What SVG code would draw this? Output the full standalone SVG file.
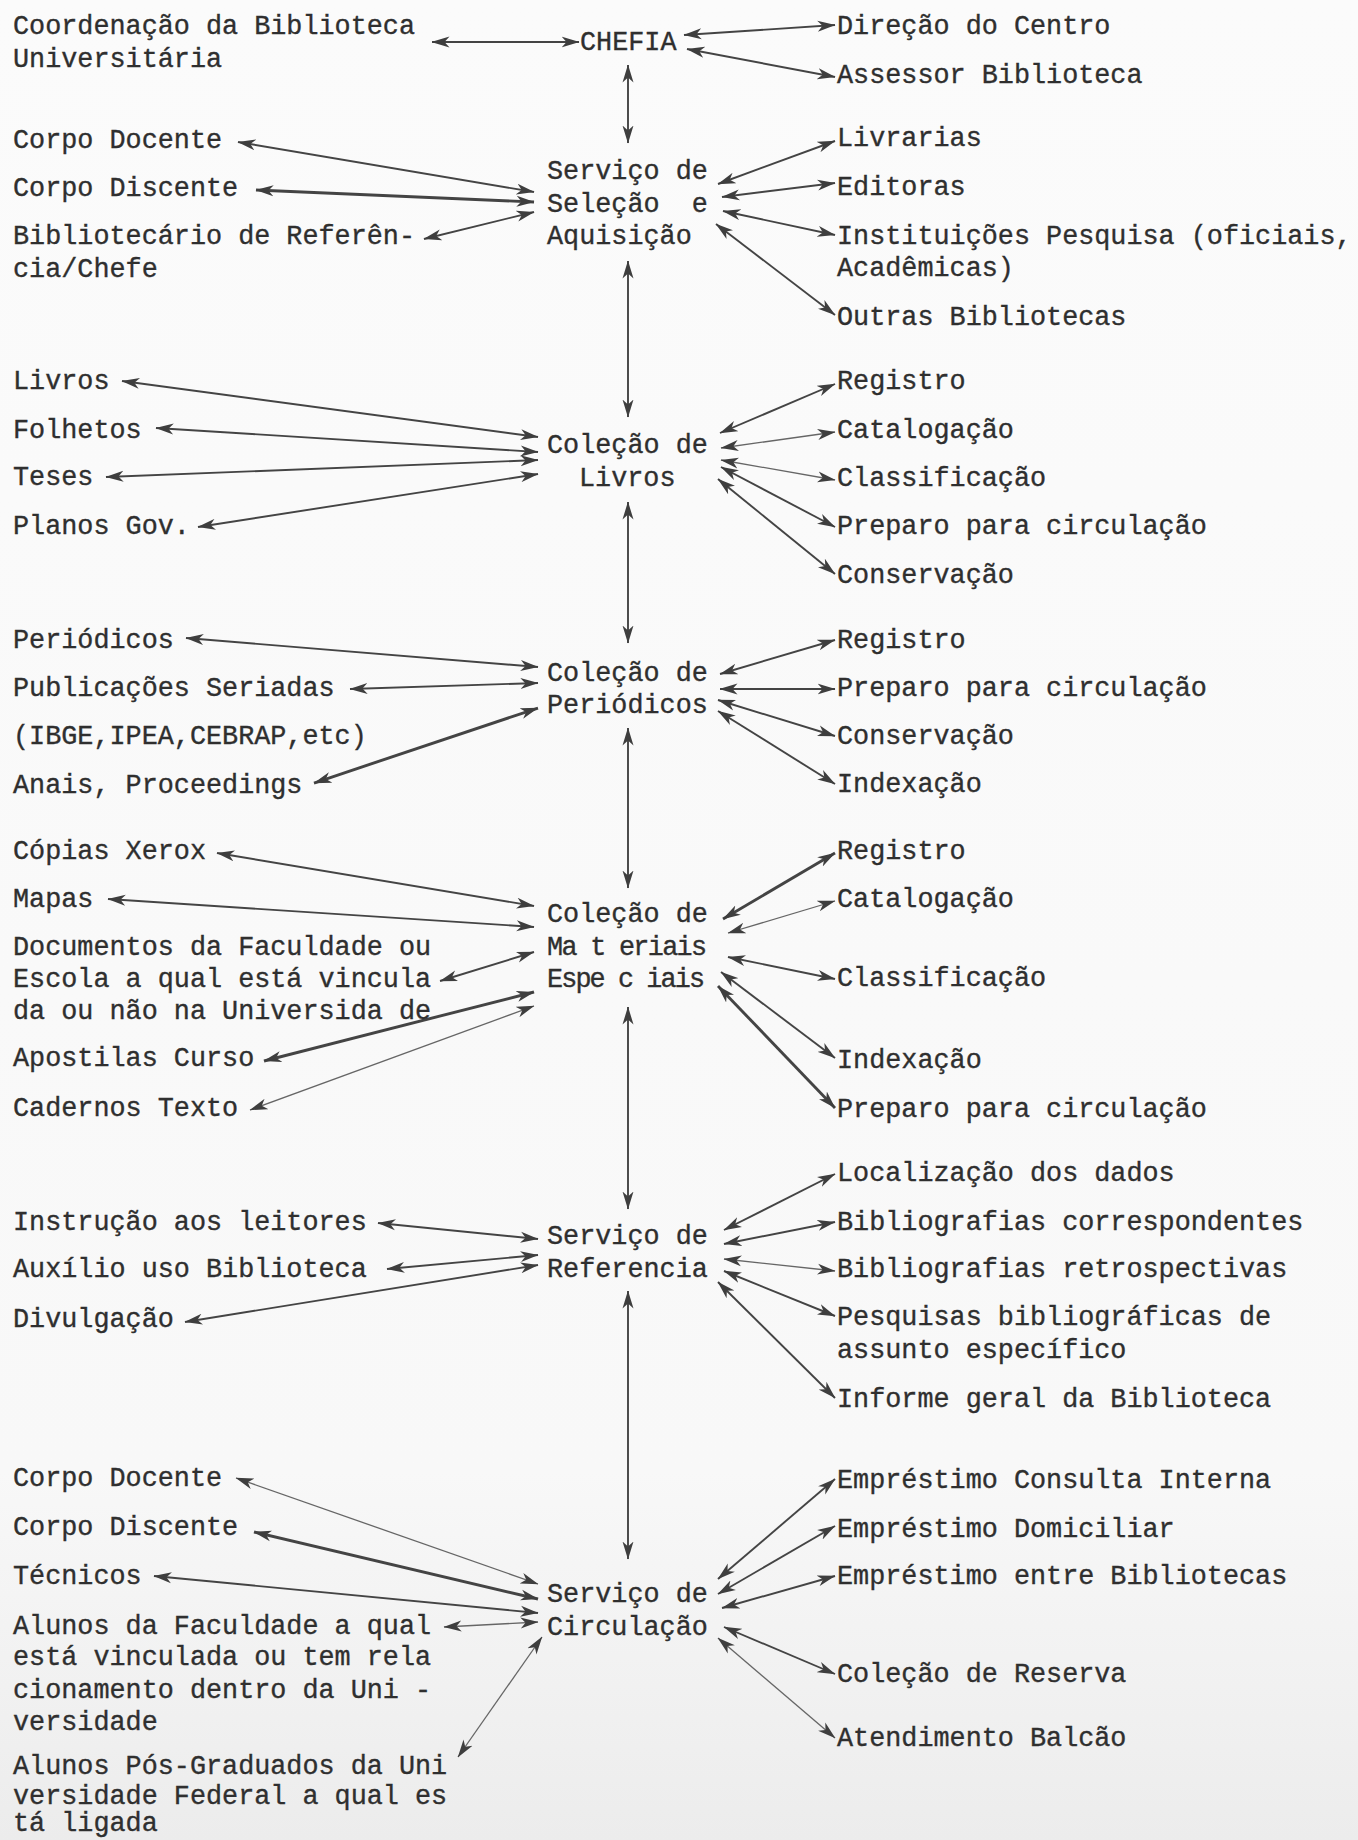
<svg xmlns="http://www.w3.org/2000/svg" width="1358" height="1840" viewBox="0 0 1358 1840">
<defs>
<marker id="ah" viewBox="0 0 18 12" refX="17.5" refY="6" markerWidth="18" markerHeight="12" markerUnits="userSpaceOnUse" orient="auto-start-reverse">
<path d="M0,0.5 L18,6 L0,11.5 L5,6 z" fill="#3e3e3e"/>
</marker>
<linearGradient id="bg" x1="0" y1="0" x2="0" y2="1">
<stop offset="0" stop-color="#fbfbfb"/>
<stop offset="0.8" stop-color="#f8f8f8"/>
<stop offset="1" stop-color="#ececec"/>
</linearGradient>
</defs>
<style>
text{font-family:"Liberation Mono","DejaVu Sans Mono",monospace;font-size:26.8px;fill:#2f2f2f;stroke:#2f2f2f;stroke-width:0.35;white-space:pre}
.c line{stroke:#444;stroke-width:1.9;fill:none;marker-start:url(#ah);marker-end:url(#ah)}
.c line.k{stroke-width:2.9}
.c line.l{stroke-width:1.3;stroke:#666}
</style>
<rect width="1358" height="1840" fill="url(#bg)"/>

<g class="c" id="connectors">
<line x1="628" y1="65" x2="628" y2="143"/>
<line x1="628" y1="261" x2="628" y2="417"/>
<line x1="628" y1="502" x2="628" y2="643"/>
<line x1="628" y1="728" x2="628" y2="888"/>
<line x1="628" y1="1007" x2="628" y2="1209"/>
<line x1="628" y1="1291" x2="628" y2="1559"/>
<line x1="432" y1="42" x2="579" y2="42"/>
<line x1="684" y1="35" x2="835" y2="25"/>
<line x1="687" y1="49" x2="835" y2="77"/>
<line x1="238" y1="142" x2="534" y2="192"/>
<line class="k" x1="256" y1="190" x2="534" y2="202"/>
<line x1="424" y1="239" x2="534" y2="212"/>
<line x1="718" y1="184" x2="835" y2="141"/>
<line x1="722" y1="197" x2="835" y2="183"/>
<line x1="723" y1="211" x2="835" y2="235"/>
<line x1="716" y1="224" x2="835" y2="315"/>
<line x1="122" y1="381" x2="538" y2="437"/>
<line x1="156" y1="428" x2="538" y2="452"/>
<line x1="106" y1="477" x2="538" y2="460"/>
<line x1="198" y1="527" x2="538" y2="474"/>
<line x1="720" y1="433" x2="835" y2="384"/>
<line class="l" x1="721" y1="448" x2="835" y2="432"/>
<line class="l" x1="721" y1="460" x2="835" y2="480"/>
<line x1="721" y1="467" x2="835" y2="527"/>
<line x1="718" y1="479" x2="835" y2="574"/>
<line x1="186" y1="638" x2="538" y2="667"/>
<line x1="350" y1="689" x2="538" y2="683"/>
<line class="k" x1="314" y1="783" x2="538" y2="708"/>
<line x1="720" y1="674" x2="835" y2="640"/>
<line x1="720" y1="689" x2="835" y2="689"/>
<line x1="718" y1="700" x2="835" y2="736"/>
<line x1="718" y1="711" x2="835" y2="784"/>
<line x1="217" y1="853" x2="534" y2="906"/>
<line x1="108" y1="899" x2="534" y2="927"/>
<line x1="440" y1="981" x2="534" y2="952"/>
<line class="k" x1="264" y1="1061" x2="534" y2="992"/>
<line class="l" x1="250" y1="1110" x2="534" y2="1006"/>
<line class="k" x1="723" y1="919" x2="835" y2="853"/>
<line class="l" x1="728" y1="933" x2="835" y2="901"/>
<line x1="728" y1="957" x2="835" y2="979"/>
<line x1="721" y1="972" x2="835" y2="1058"/>
<line class="k" x1="718" y1="986" x2="835" y2="1108"/>
<line x1="378" y1="1223" x2="538" y2="1239"/>
<line x1="387" y1="1269" x2="538" y2="1255"/>
<line x1="185" y1="1322" x2="538" y2="1265"/>
<line x1="724" y1="1230" x2="835" y2="1174"/>
<line x1="724" y1="1244" x2="835" y2="1222"/>
<line class="l" x1="724" y1="1259" x2="835" y2="1271"/>
<line x1="724" y1="1271" x2="835" y2="1316"/>
<line x1="718" y1="1282" x2="835" y2="1398"/>
<line class="l" x1="236" y1="1478" x2="538" y2="1584"/>
<line class="k" x1="254" y1="1532" x2="538" y2="1599"/>
<line x1="154" y1="1576" x2="538" y2="1613"/>
<line class="l" x1="444" y1="1627" x2="538" y2="1622"/>
<line class="l" x1="458" y1="1757" x2="542" y2="1637"/>
<line x1="718" y1="1579" x2="835" y2="1479"/>
<line x1="718" y1="1594" x2="835" y2="1526"/>
<line x1="722" y1="1608" x2="835" y2="1576"/>
<line x1="724" y1="1627" x2="835" y2="1674"/>
<line class="l" x1="718" y1="1638" x2="835" y2="1738"/>
</g>

<g id="chefia"><text x="580" y="50">CHEFIA</text></g>
<g id="selecao"><text x="547" y="179">Serviço de</text><text x="547" y="212">Seleção  e</text><text x="547" y="244">Aquisição</text></g>
<g id="col-livros"><text x="547" y="453">Coleção de</text><text x="579" y="486">Livros</text></g>
<g id="col-periodicos"><text x="547" y="681">Coleção de</text><text x="547" y="713">Periódicos</text></g>
<g id="col-materiais"><text x="547" y="922">Coleção de</text><text x="547" y="955" textLength="160" lengthAdjust="spacing">Ma t eriais</text><text x="547" y="987" textLength="158" lengthAdjust="spacing">Espe c iais</text></g>
<g id="referencia"><text x="547" y="1244">Serviço de</text><text x="547" y="1277">Referencia</text></g>
<g id="circulacao"><text x="547" y="1602">Serviço de</text><text x="547" y="1635">Circulação</text></g>

<g id="coord"><text x="13" y="34">Coordenação da Biblioteca</text><text x="13" y="67">Universitária</text></g>
<g id="docente1"><text x="13" y="148">Corpo Docente</text></g>
<g id="discente1"><text x="13" y="196">Corpo Discente</text></g>
<g id="bibref"><text x="13" y="244">Bibliotecário de Referên-</text><text x="13" y="277">cia/Chefe</text></g>
<g id="livros-item"><text x="13" y="389">Livros</text></g>
<g id="folhetos"><text x="13" y="438">Folhetos</text></g>
<g id="teses"><text x="13" y="485">Teses</text></g>
<g id="planos"><text x="13" y="534">Planos Gov.</text></g>
<g id="periodicos-item"><text x="13" y="648">Periódicos</text></g>
<g id="publicacoes"><text x="13" y="696">Publicações Seriadas</text></g>
<g id="ibge"><text x="13" y="744">(IBGE,IPEA,CEBRAP,etc)</text></g>
<g id="anais"><text x="13" y="793">Anais, Proceedings</text></g>
<g id="copias"><text x="13" y="859">Cópias Xerox</text></g>
<g id="mapas"><text x="13" y="907">Mapas</text></g>
<g id="documentos"><text x="13" y="955">Documentos da Faculdade ou</text><text x="13" y="987">Escola a qual está vincula</text><text x="13" y="1019">da ou não na Universida de</text></g>
<g id="apostilas"><text x="13" y="1066">Apostilas Curso</text></g>
<g id="cadernos"><text x="13" y="1116">Cadernos Texto</text></g>
<g id="instrucao"><text x="13" y="1230">Instrução aos leitores</text></g>
<g id="auxilio"><text x="13" y="1277">Auxílio uso Biblioteca</text></g>
<g id="divulgacao"><text x="13" y="1327">Divulgação</text></g>
<g id="docente2"><text x="13" y="1486">Corpo Docente</text></g>
<g id="discente2"><text x="13" y="1535">Corpo Discente</text></g>
<g id="tecnicos"><text x="13" y="1584">Técnicos</text></g>
<g id="alunos-fac"><text x="13" y="1634">Alunos da Faculdade a qual</text><text x="13" y="1665">está vinculada ou tem rela</text><text x="13" y="1698">cionamento dentro da Uni -</text><text x="13" y="1730">versidade</text></g>
<g id="alunos-pos"><text x="13" y="1774">Alunos Pós-Graduados da Uni</text><text x="13" y="1804">versidade Federal a qual es</text><text x="13" y="1831">tá ligada</text></g>

<g id="direcao"><text x="837" y="34">Direção do Centro</text></g>
<g id="assessor"><text x="837" y="83">Assessor Biblioteca</text></g>
<g id="livrarias"><text x="837" y="146">Livrarias</text></g>
<g id="editoras"><text x="837" y="195">Editoras</text></g>
<g id="instituicoes"><text x="837" y="244">Instituições Pesquisa (oficiais,</text><text x="837" y="276">Acadêmicas)</text></g>
<g id="outras"><text x="837" y="325">Outras Bibliotecas</text></g>
<g id="registro1"><text x="837" y="389">Registro</text></g>
<g id="catalog1"><text x="837" y="438">Catalogação</text></g>
<g id="classif1"><text x="837" y="486">Classificação</text></g>
<g id="preparo1"><text x="837" y="534">Preparo para circulação</text></g>
<g id="conserv1"><text x="837" y="583">Conservação</text></g>
<g id="registro2"><text x="837" y="648">Registro</text></g>
<g id="preparo2"><text x="837" y="696">Preparo para circulação</text></g>
<g id="conserv2"><text x="837" y="744">Conservação</text></g>
<g id="index2"><text x="837" y="792">Indexação</text></g>
<g id="registro3"><text x="837" y="859">Registro</text></g>
<g id="catalog3"><text x="837" y="907">Catalogação</text></g>
<g id="classif3"><text x="837" y="986">Classificação</text></g>
<g id="index3"><text x="837" y="1068">Indexação</text></g>
<g id="preparo3"><text x="837" y="1117">Preparo para circulação</text></g>
<g id="localizacao"><text x="837" y="1181">Localização dos dados</text></g>
<g id="bibcorr"><text x="837" y="1230">Bibliografias correspondentes</text></g>
<g id="bibretro"><text x="837" y="1277">Bibliografias retrospectivas</text></g>
<g id="pesquisas"><text x="837" y="1325">Pesquisas bibliográficas de</text><text x="837" y="1358">assunto específico</text></g>
<g id="informe"><text x="837" y="1407">Informe geral da Biblioteca</text></g>
<g id="emp-consulta"><text x="837" y="1488">Empréstimo Consulta Interna</text></g>
<g id="emp-domic"><text x="837" y="1537">Empréstimo Domiciliar</text></g>
<g id="emp-entre"><text x="837" y="1584">Empréstimo entre Bibliotecas</text></g>
<g id="reserva"><text x="837" y="1682">Coleção de Reserva</text></g>
<g id="balcao"><text x="837" y="1746">Atendimento Balcão</text></g>
</svg>
